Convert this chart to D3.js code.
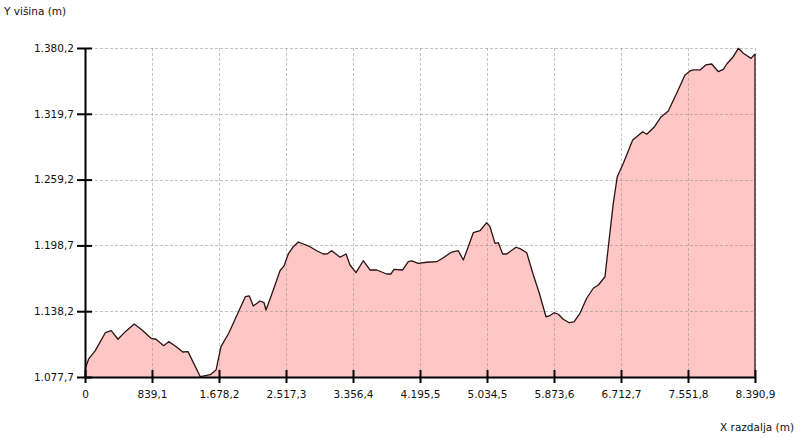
<!DOCTYPE html>
<html>
<head>
<meta charset="utf-8">
<script src="https://cdn.jsdelivr.net/npm/d3@7"></script>
<style>
  html, body { margin: 0; padding: 0; background: #fff; }
  svg { display: block; }
  text { font-family: "DejaVu Sans", Verdana, sans-serif; font-size: 10.5px; fill: #111; }
</style>
</head>
<body>
<svg id="chart" width="800" height="440"></svg>
<script>
// distance along route (m)
const distance = [
  0, 46, 129, 254, 329, 413, 505, 617, 714, 827, 889, 986, 1048, 1131, 1224, 1290,
  1444, 1507, 1569, 1641, 1703, 1800, 1904, 2008, 2058, 2108, 2192, 2242, 2267, 2358,
  2442, 2492, 2546, 2609, 2671, 2734, 2818, 2902, 2984, 3035, 3090, 3194, 3269, 3319,
  3394, 3485, 3569, 3653, 3778, 3829, 3870, 3979, 4049, 4092, 4174, 4279, 4405, 4487,
  4593, 4675, 4738, 4800, 4863, 4947, 5031, 5072, 5135, 5176, 5231, 5281, 5398, 5448,
  5532, 5615, 5690, 5773, 5815, 5874, 5928, 5990, 6065, 6124, 6199, 6283, 6366, 6429,
  6512, 6554, 6616, 6666, 6742, 6859, 6985, 7035, 7126, 7210, 7305, 7410, 7514, 7577,
  7618, 7702, 7774, 7849, 7932, 7994, 8037, 8119, 8182, 8245, 8341, 8390.9
];
// elevation (m)
const elevation = [
  1085.1, 1094.3, 1101.9, 1118.4, 1120.3, 1112.4, 1119.4, 1126.4, 1120.9, 1113.3, 1112.4, 1106.5, 1110.2, 1106.2, 1100.7, 1101.0,
  1078.0, 1078.9, 1079.8, 1084.1, 1105.6, 1117.9, 1134.7, 1151.5, 1152.2, 1143.0, 1147.6, 1146.0, 1139.3, 1157.7,
  1175.4, 1179.8, 1190.8, 1197.5, 1201.8, 1200.0, 1197.5, 1193.8, 1190.8, 1191.0, 1193.8, 1187.8, 1190.8, 1180.7,
  1173.6, 1184.6, 1176.1, 1176.1, 1172.4, 1172.4, 1176.7, 1176.1, 1183.7, 1184.4, 1182.2, 1183.2, 1183.7, 1187.4,
  1192.6, 1193.8, 1185.3, 1197.5, 1210.4, 1212.2, 1219.6, 1215.9, 1200.6, 1201.2, 1190.8, 1190.8, 1197.0, 1195.7,
  1192.0, 1171.5, 1154.7, 1133.1, 1133.8, 1136.8, 1135.4, 1130.8, 1127.6, 1128.3, 1136.3, 1150.1, 1159.3, 1162.3,
  1169.9, 1197.5, 1237.4, 1261.9, 1274.2, 1295.6, 1303.2, 1300.9, 1307.3, 1316.5, 1322.3, 1338.6, 1355.4, 1359.1,
  1360.0, 1360.0, 1364.6, 1365.5, 1358.4, 1360.6, 1365.5, 1372.2, 1379.9, 1375.3, 1370.7, 1374.7
];
const xTicks = [0, 839.1, 1678.2, 2517.3, 3356.4, 4195.5, 5034.5, 5873.6, 6712.7, 7551.8, 8390.9];
const xTickLabels = ["0", "839,1", "1.678,2", "2.517,3", "3.356,4", "4.195,5", "5.034,5", "5.873,6", "6.712,7", "7.551,8", "8.390,9"];
const yTicks = [1077.7, 1138.2, 1198.7, 1259.2, 1319.7, 1380.2];
const yTickLabels = ["1.077,7", "1.138,2", "1.198,7", "1.259,2", "1.319,7", "1.380,2"];
const yTitle = "Y višina (m)";
const xTitle = "X razdalja (m)";

(function () {
const data = distance.map((d, i) => ({ x: d, y: elevation[i] }));

const svg = d3.select("#chart");
const pL = 85, pR = 755, pT = 48, pB = 377;

const x = d3.scaleLinear().domain([0, 8390.9]).range([pL, pR]);
const y = d3.scaleLinear().domain([1077.7, 1380.2]).range([pB, pT]);

// area
const area = d3.area().x(d => x(d.x)).y0(pB).y1(d => y(d.y));
svg.append("path").datum(data)
  .attr("d", area)
  .attr("fill", "#ffc6c6");

// grid
const grid = svg.append("g").attr("stroke", "#8a8a8a").attr("stroke-opacity", 0.5)
  .attr("stroke-dasharray", "3,2").attr("stroke-width", 1).attr("shape-rendering", "crispEdges");
grid.selectAll(".gx").data(xTicks.slice(1)).join("line")
  .attr("x1", d => Math.round(x(d)) + 0.5).attr("x2", d => Math.round(x(d)) + 0.5)
  .attr("y1", pT).attr("y2", pB);
grid.selectAll(".gy").data(yTicks.slice(1)).join("line")
  .attr("y1", d => Math.round(y(d)) + 0.5).attr("y2", d => Math.round(y(d)) + 0.5)
  .attr("x1", pL).attr("x2", pR);

// profile line
const line = d3.line().x(d => x(d.x)).y(d => y(d.y));
svg.append("path").datum(data)
  .attr("d", line)
  .attr("fill", "none")
  .attr("stroke", "#2a1414")
  .attr("stroke-width", 1.3)
  .attr("stroke-linejoin", "round");
// right edge
svg.append("line")
  .attr("x1", x(8390.9)).attr("x2", x(8390.9))
  .attr("y1", y(elevation[elevation.length - 1])).attr("y2", pB)
  .attr("stroke", "#2a1414").attr("stroke-width", 1.3);

// axes
const xAxis = d3.axisBottom(x).tickValues(xTicks)
  .tickFormat((d, i) => xTickLabels[i]).tickSizeInner(6).tickSizeOuter(0).tickPadding(8);
const gx = svg.append("g").attr("transform", `translate(0,${pB})`).call(xAxis);
gx.select(".domain").attr("stroke", "#000").attr("stroke-width", 2);
gx.selectAll(".tick line").attr("stroke", "#000").attr("stroke-width", 2).attr("y1", -7);
gx.selectAll(".tick text").attr("fill", "#111").style("font-size", "10.5px");

const yAxis = d3.axisLeft(y).tickValues(yTicks)
  .tickFormat((d, i) => yTickLabels[i]).tickSizeInner(8).tickSizeOuter(0).tickPadding(3);
const gy = svg.append("g").attr("transform", `translate(${pL},0)`).call(yAxis);
gy.select(".domain").attr("stroke", "#000").attr("stroke-width", 2);
gy.selectAll(".tick line").attr("stroke", "#000").attr("stroke-width", 2).attr("x1", 7);
gy.selectAll(".tick text").attr("fill", "#111").style("font-size", "10.5px");

// titles
svg.append("text").attr("x", 4).attr("y", 15).text(yTitle);
svg.append("text").attr("x", 794).attr("y", 431).attr("text-anchor", "end").text(xTitle);
})();
</script>
</body>
</html>
